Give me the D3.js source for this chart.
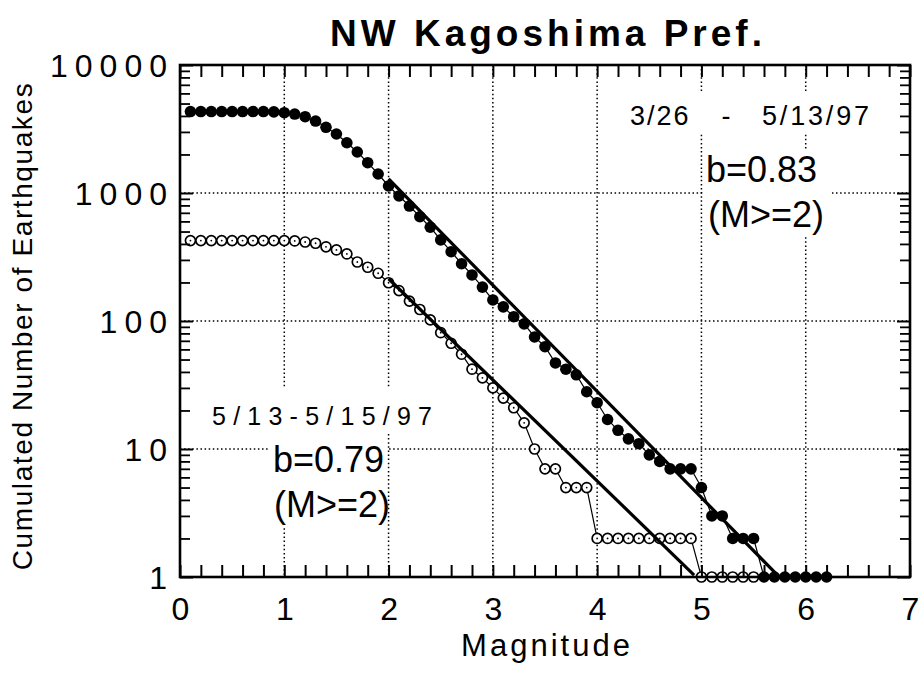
<!DOCTYPE html>
<html>
<head>
<meta charset="utf-8">
<script src="https://cdn.jsdelivr.net/npm/d3@7"></script>
<style>
  html, body { margin: 0; padding: 0; background: #fff; }
  svg { display: block; font-family: "Liberation Sans", Arial, Helvetica, sans-serif; }
</style>
</head>
<body>
<svg id="chart" width="920" height="673"></svg>
<script>
// Cumulative magnitude-frequency data, 3/26 - 5/13/97 (filled dots)
const magsA = [0.1,0.2,0.3,0.4,0.5,0.6,0.7,0.8,0.9,1.0,
               1.1,1.2,1.3,1.4,1.5,1.6,1.7,1.8,1.9,2.0,
               2.1,2.2,2.3,2.4,2.5,2.6,2.7,2.8,2.9,3.0,
               3.1,3.2,3.3,3.4,3.5,3.6,3.7,3.8,3.9,4.0,
               4.1,4.2,4.3,4.4,4.5,4.6,4.7,4.8,4.9,5.0,
               5.1,5.2,5.3,5.4,5.5,5.6,5.7,5.8,5.9,6.0,
               6.1,6.2];
const countsA = [4330,4330,4330,4330,4330,4330,4330,4330,4300,4240,
                 4140,3945,3650,3260,2890,2470,2090,1725,1407,1135,
                 948,791,653,540,430,348,280,229,184,146,
                 129,108,95,75,63,47,42,38,28,23,
                 17,14,12,11,9,8,7,7,7,5,
                 3,3,2,2,2,1,1,1,1,1,
                 1,1];

// Cumulative magnitude-frequency data, 5/13 - 5/15/97 (open dots)
const magsB = [0.1,0.2,0.3,0.4,0.5,0.6,0.7,0.8,0.9,1.0,
               1.1,1.2,1.3,1.4,1.5,1.6,1.7,1.8,1.9,2.0,
               2.1,2.2,2.3,2.4,2.5,2.6,2.7,2.8,2.9,3.0,
               3.1,3.2,3.3,3.4,3.5,3.6,3.7,3.8,3.9,4.0,
               4.1,4.2,4.3,4.4,4.5,4.6,4.7,4.8,4.9,5.0,
               5.1,5.2,5.3,5.4,5.5];
const countsB = [425,425,425,425,425,425,425,425,425,425,
                 422,414,405,380,359,334,289,263,236,199,
                 173,143,123,102,81,67,55,42,36,30,
                 25,21,16,10,7,7,5,5,5,2,
                 2,2,2,2,2,2,2,2,2,1,
                 1,1,1,1,1];

// Gutenberg-Richter fits: log10 N = a - b M, drawn over [from, to]
const fitB_values   = [0.83, 0.79];
const fitIntercepts = [4.77, 3.91];
const fitFrom       = [2.0, 2.0];
const fitTo         = [5.72, 4.93];

// Axis ticks and labels
const xLabelTicks = [0, 1, 2, 3, 4, 5, 6, 7];
const xGridTicks  = [1, 2, 3, 4, 5, 6];
const yLabelTicks = [1, 10, 100, 1000, 10000];
const yGridTicks  = [10, 100, 1000];
const yMinorTicks = [2,3,4,5,6,7,8,9, 20,30,40,50,60,70,80,90,
                     200,300,400,500,600,700,800,900,
                     2000,3000,4000,5000,6000,7000,8000,9000];
const xMinorTicks = [0,0.2,0.4,0.6,0.8,1,1.2,1.4,1.6,1.8,2,2.2,2.4,2.6,2.8,3,3.2,3.4,3.6,3.8,
                     4,4.2,4.4,4.6,4.8,5,5.2,5.4,5.6,5.8,6,6.2,6.4,6.6,6.8,7];

const W = 920, H = 673;
const margin = { top: 65, right: 10, bottom: 96, left: 180 };
const svg = d3.select("#chart");

const x = d3.scaleLinear().domain([0, 7]).range([margin.left, W - margin.right]);
const y = d3.scaleLog().domain([1, 10000]).range([H - margin.bottom, margin.top]);

// dotted grid
const grid = svg.append("g").attr("stroke", "#000").attr("stroke-width", 1.5)
  .attr("stroke-dasharray", "1.5,2.6").attr("fill", "none");
grid.selectAll("line.vx").data(xGridTicks).join("line")
  .attr("x1", d => x(d)).attr("x2", d => x(d))
  .attr("y1", y(10000)).attr("y2", y(1));
grid.selectAll("line.hy").data(yGridTicks).join("line")
  .attr("x1", x(0)).attr("x2", x(7))
  .attr("y1", d => y(d)).attr("y2", d => y(d));

// opaque boxes behind the annotations
const boxes = [
  [622, 93, 256, 39],
  [704, 150, 128, 86],
  [208, 388, 228, 44],
  [270, 432, 117, 94]
];
svg.append("g").selectAll("rect").data(boxes).join("rect")
  .attr("x", d => d[0]).attr("y", d => d[1])
  .attr("width", d => d[2]).attr("height", d => d[3])
  .attr("fill", "#fff");

// connecting lines
const line = d3.line().x(d => x(d[0])).y(d => y(d[1]));
const ptsA = magsA.map((m, i) => [m, countsA[i]]);
const ptsB = magsB.map((m, i) => [m, countsB[i]]);
svg.append("path").datum(ptsA).attr("d", line)
  .attr("fill", "none").attr("stroke", "#000").attr("stroke-width", 1.2);
svg.append("path").datum(ptsB).attr("d", line)
  .attr("fill", "none").attr("stroke", "#000").attr("stroke-width", 1.2);

// open dots
const gB = svg.append("g");
gB.selectAll("circle.o").data(ptsB).join("circle")
  .attr("cx", d => x(d[0])).attr("cy", d => y(d[1])).attr("r", 5.0)
  .attr("fill", "#fff").attr("stroke", "#000").attr("stroke-width", 1.7);
gB.selectAll("circle.c").data(ptsB).join("circle")
  .attr("cx", d => x(d[0])).attr("cy", d => y(d[1])).attr("r", 0.9)
  .attr("fill", "#000");

// filled dots
svg.append("g").selectAll("circle").data(ptsA).join("circle")
  .attr("cx", d => x(d[0])).attr("cy", d => y(d[1])).attr("r", 5.8)
  .attr("fill", "#000");

// fit lines
fitB_values.forEach((b, i) => {
  const a = fitIntercepts[i];
  const seg = [fitFrom[i], fitTo[i]].map(m => [m, Math.pow(10, a - b * m)]);
  svg.append("path").datum(seg).attr("d", line)
    .attr("fill", "none").attr("stroke", "#000").attr("stroke-width", 3.2);
});

// axes: inward ticks on all four sides
function styleTicks(g, w) {
  g.select(".domain").remove();
  g.selectAll(".tick line").attr("stroke", "#000").attr("stroke-width", w);
  g.selectAll(".tick text").remove();
}
svg.append("g").attr("transform", `translate(0,${y(1)})`)
  .call(d3.axisBottom(x).tickValues(xMinorTicks).tickSize(-12)).call(g => styleTicks(g, 2));
svg.append("g").attr("transform", `translate(0,${y(10000)})`)
  .call(d3.axisTop(x).tickValues(xMinorTicks).tickSize(-12)).call(g => styleTicks(g, 2));
svg.append("g").attr("transform", `translate(${x(0)},0)`)
  .call(d3.axisLeft(y).tickValues(yMinorTicks).tickSize(-10)).call(g => styleTicks(g, 1.8));
svg.append("g").attr("transform", `translate(${x(0)},0)`)
  .call(d3.axisLeft(y).tickValues(yLabelTicks).tickSize(-13)).call(g => styleTicks(g, 2));
svg.append("g").attr("transform", `translate(${x(7)},0)`)
  .call(d3.axisRight(y).tickValues(yMinorTicks).tickSize(-10)).call(g => styleTicks(g, 1.8));
svg.append("g").attr("transform", `translate(${x(7)},0)`)
  .call(d3.axisRight(y).tickValues(yLabelTicks).tickSize(-13)).call(g => styleTicks(g, 2));

// frame
svg.append("rect")
  .attr("x", x(0)).attr("y", y(10000))
  .attr("width", x(7) - x(0)).attr("height", y(1) - y(10000))
  .attr("fill", "none").attr("stroke", "#000").attr("stroke-width", 2.6);

// tick labels
const xAxisLabels = svg.append("g").attr("transform", `translate(0,${y(1)})`)
  .call(d3.axisBottom(x).tickValues(xLabelTicks).tickSize(0).tickPadding(20).tickFormat(d3.format("d")));
xAxisLabels.select(".domain").remove();
xAxisLabels.selectAll("text").attr("font-size", 32).attr("fill", "#000")
  .attr("font-family", "'Liberation Sans', Arial, sans-serif");

const yAxisLabels = svg.append("g").attr("transform", `translate(${x(0)},0)`)
  .call(d3.axisLeft(y).tickValues(yLabelTicks).tickSize(0).tickPadding(6).tickFormat(d3.format("d")));
yAxisLabels.select(".domain").remove();
yAxisLabels.selectAll("text").attr("font-size", 32).attr("fill", "#000")
  .attr("dy", "0.37em").attr("letter-spacing", "7px")
  .attr("font-family", "'Liberation Sans', Arial, sans-serif");

// titles
svg.append("text").attr("x", 548).attr("y", 46).attr("text-anchor", "middle")
  .attr("font-size", 37).attr("font-weight", "bold").attr("letter-spacing", "4px")
  .text("NW  Kagoshima  Pref.");
svg.append("text").attr("x", 547).attr("y", 656).attr("text-anchor", "middle")
  .attr("font-size", 31).attr("letter-spacing", "3px")
  .text("Magnitude");
svg.append("text").attr("transform", "translate(32,326) rotate(-90)")
  .attr("text-anchor", "middle").attr("font-size", 28).attr("letter-spacing", "1.6px")
  .text("Cumulated Number of Earthquakes");

// annotations
svg.append("text").attr("x", 630).attr("y", 125).attr("font-size", 27)
  .attr("letter-spacing", "2px").text("3/26");
svg.append("text").attr("x", 726).attr("y", 125).attr("font-size", 27)
  .attr("text-anchor", "middle").text("-");
svg.append("text").attr("x", 762).attr("y", 125).attr("font-size", 27)
  .attr("textLength", 107).text("5/13/97");
svg.append("text").attr("x", 706).attr("y", 182).attr("font-size", 36).text("b=0.83");
svg.append("text").attr("x", 708).attr("y", 227).attr("font-size", 36).text("(M>=2)");

svg.append("text").attr("x", 212).attr("y", 425).attr("font-size", 25)
  .attr("textLength", 220).text("5/13-5/15/97");
svg.append("text").attr("x", 273).attr("y", 472).attr("font-size", 36).text("b=0.79");
svg.append("text").attr("x", 274).attr("y", 517).attr("font-size", 36).text("(M>=2)");
</script>
</body>
</html>
